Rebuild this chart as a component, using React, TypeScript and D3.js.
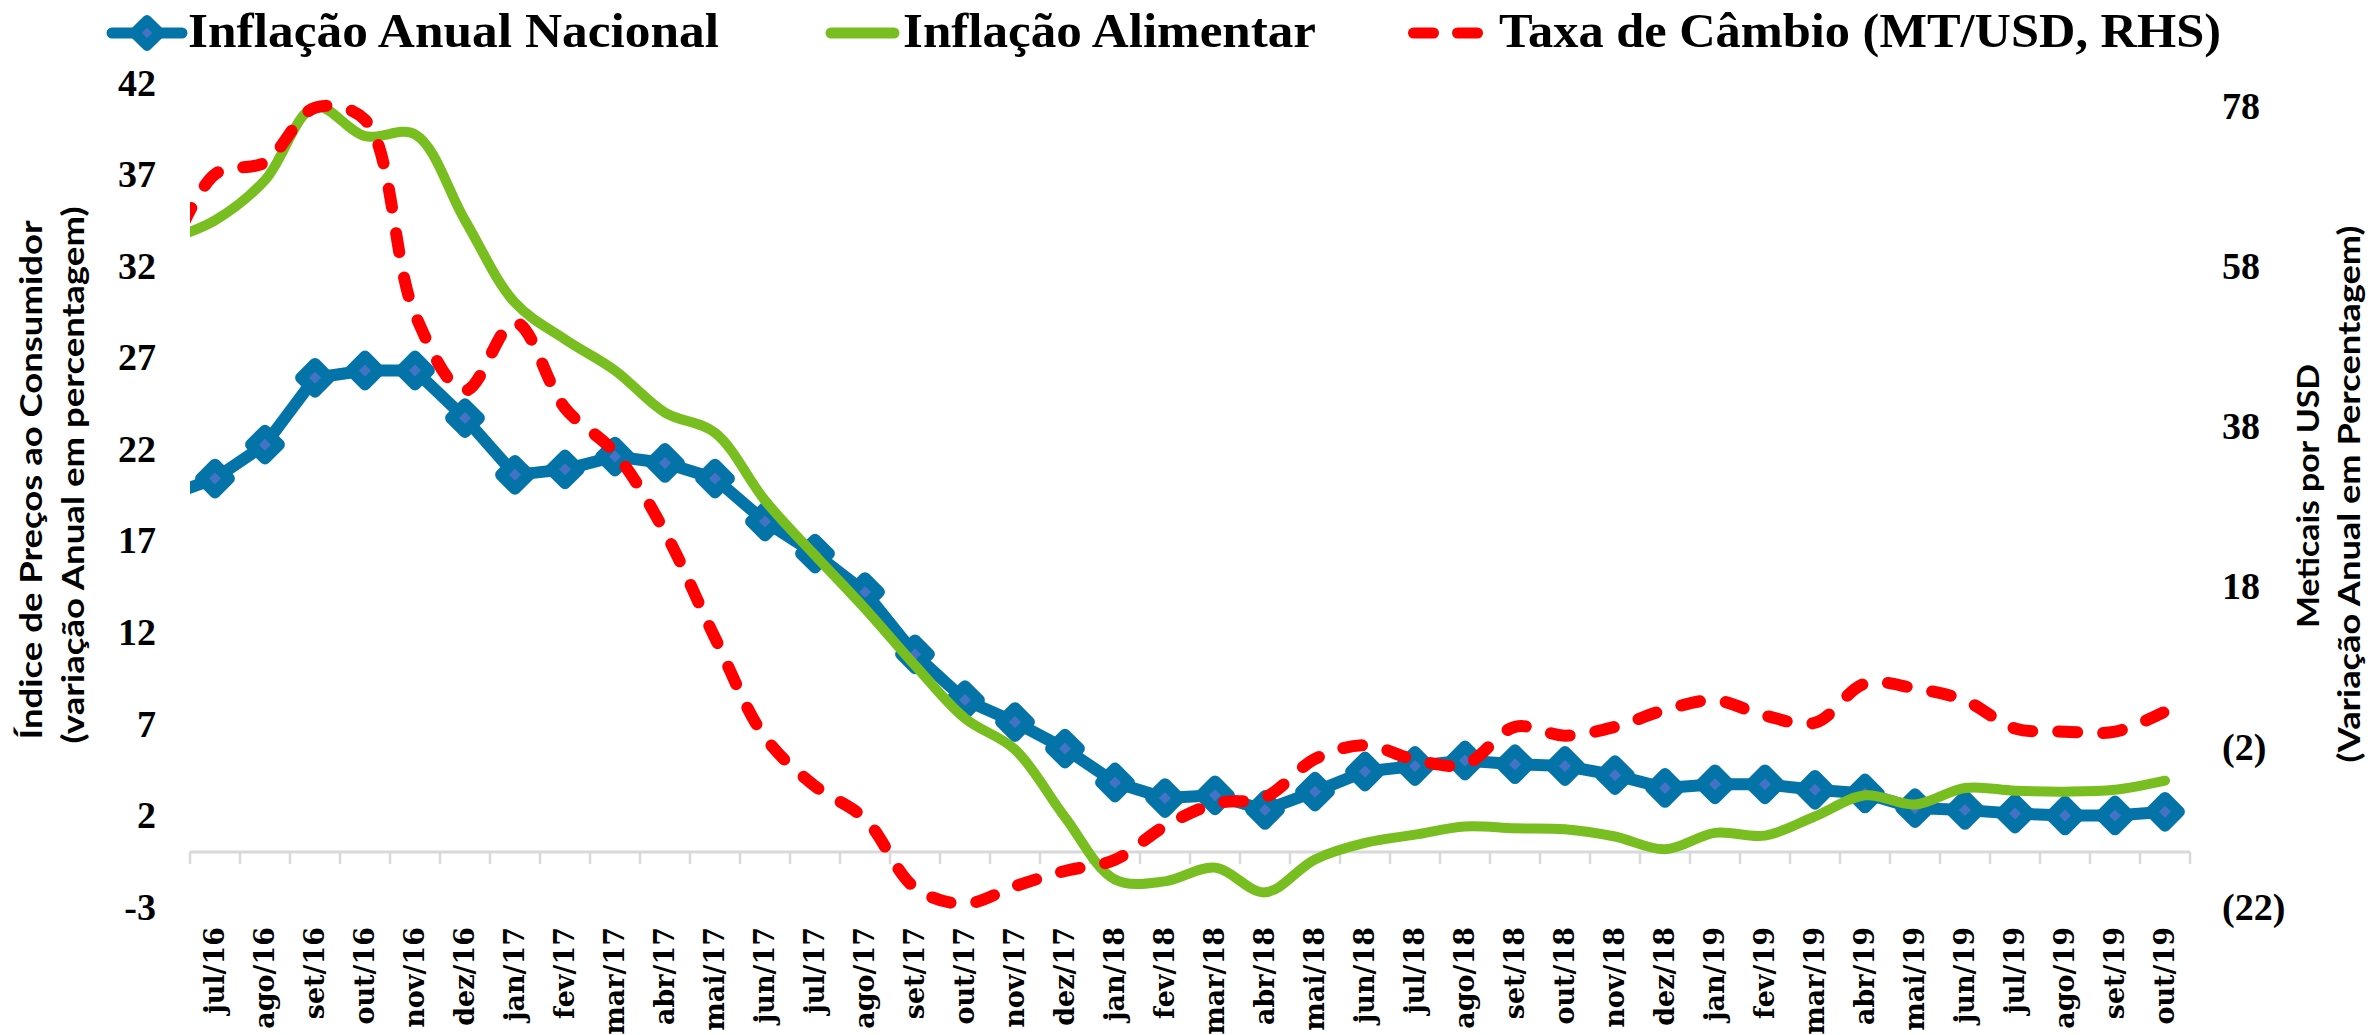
import { useEffect, useRef } from "react";
import * as d3 from "d3";

// first month (jun/16) sits left of the axis and is clipped, like in the original
const months = [
  "jun/16", "jul/16", "ago/16", "set/16", "out/16", "nov/16", "dez/16",
  "jan/17", "fev/17", "mar/17", "abr/17", "mai/17", "jun/17", "jul/17", "ago/17", "set/17", "out/17", "nov/17", "dez/17",
  "jan/18", "fev/18", "mar/18", "abr/18", "mai/18", "jun/18", "jul/18", "ago/18", "set/18", "out/18", "nov/18", "dez/18",
  "jan/19", "fev/19", "mar/19", "abr/19", "mai/19", "jun/19", "jul/19", "ago/19", "set/19", "out/19",
];
const axisMonths = months.slice(1);

const inflacaoNacional = [
  19.4, 20.4, 22.25, 25.9, 26.3, 26.3, 23.7,
  20.6, 20.9, 21.6, 21.25, 20.4, 18.05, 16.3, 14.2, 10.8, 8.3, 7.1, 5.65,
  3.8, 2.95, 3.1, 2.3, 3.3, 4.4, 4.7, 5.0, 4.8, 4.7, 4.2, 3.5,
  3.7, 3.7, 3.4, 3.2, 2.4, 2.3, 2.1, 2.0, 2.0, 2.2,
];
const inflacaoAlimentar = [
  33.4, 34.5, 36.7, 40.7, 39.1, 39.2, 34.5,
  30.0, 28.0, 26.3, 24.0, 22.9, 19.2, 16.2, 13.3, 10.2, 7.3, 5.6, 1.9,
  -1.5, -1.6, -0.85, -2.2, -0.4, 0.5, 0.95, 1.4, 1.3, 1.25, 0.85, 0.15,
  1.05, 0.9, 1.95, 3.1, 2.6, 3.5, 3.35, 3.3, 3.4, 3.9,
];
const taxaCambio = [
  58, 69.5, 71.0, 77.8, 76.3, 52.0, 42.5,
  51.0, 40.3, 34.7, 24.8, 11.6, -0.8, -6.9, -11.0, -19.6, -21.6, -19.4, -17.5,
  -16.1, -11.9, -9.1, -8.3, -3.5, -1.8, -3.6, -4.2, 0.5, -0.6, 0.5, 2.6,
  3.8, 1.9, 1.0, 5.9, 5.3, 3.8, 0.3, -0.1, -0.1, 2.4,
];

const leftTicks = [-3, 2, 7, 12, 17, 22, 27, 32, 37, 42];
const rightTicks = [-22, -2, 18, 38, 58, 78];

const BLUE = "#0474A8";
const BLUE_FILL = "#4472C4";
const GREEN = "#78BE20";
const RED = "#FF0000";

const App = () => {
  const svgRef = useRef<SVGSVGElement>(null);

  useEffect(() => {
    if (!svgRef.current) return;
    const svg = d3.select(svgRef.current);
    svg.selectAll("*").remove();

    const W = 2372;
    const H = 1035;
    const plot = { left: 190, right: 2190, top: 83, bottom: 907 };
    svg.attr("width", W).attr("height", H);

    const step = (plot.right - plot.left) / axisMonths.length;
    const x = d3.scaleBand().domain(months).range([plot.left - step, plot.right]);
    const bw = x.bandwidth();
    const cx = (m: string) => (x(m) as number) + bw / 2;

    const yL = d3.scaleLinear().domain([-3, 42]).range([plot.bottom, plot.top]);
    const yR = d3.scaleLinear().domain([-22, 80.9]).range([plot.bottom, plot.top]);

    svg.append("defs").append("clipPath").attr("id", "plotClip")
      .append("rect").attr("x", plot.left).attr("y", 0).attr("width", plot.right - plot.left).attr("height", H);

    // category axis at zero
    const y0 = yL(0);
    const axis = svg.append("g");
    axis.append("line")
      .attr("x1", plot.left).attr("x2", plot.right)
      .attr("y1", y0).attr("y2", y0)
      .attr("stroke", "#D9D9D9").attr("stroke-width", 3);
    axis.selectAll(".tick")
      .data([...axisMonths.map((m) => x(m) as number), plot.right])
      .join("line")
      .attr("x1", (d) => d).attr("x2", (d) => d)
      .attr("y1", y0).attr("y2", y0 + 12)
      .attr("stroke", "#D9D9D9").attr("stroke-width", 2.5);

    svg.append("g").selectAll("text")
      .data(axisMonths)
      .join("text")
      .attr("transform", (m) => `translate(${cx(m)},927) rotate(-90)`)
      .attr("text-anchor", "end")
      .attr("dy", "0.35em")
      .style("font-family", "'DejaVu Serif', serif")
      .style("font-weight", "bold")
      .style("font-size", "27px")
      .text((m) => m);

    // left axis labels
    svg.append("g")
      .attr("transform", `translate(159,0)`)
      .call(d3.axisLeft(yL).tickValues(leftTicks).tickSize(0).tickPadding(3).tickFormat((d) => `${d}`))
      .call((g) => g.select(".domain").remove())
      .selectAll("text")
      .style("font-family", "'Liberation Serif', serif")
      .style("font-weight", "bold")
      .style("font-size", "38px")
      .attr("fill", "#000");

    // right axis labels
    svg.append("g")
      .attr("transform", `translate(2219,0)`)
      .call(
        d3.axisRight(yR).tickValues(rightTicks).tickSize(0).tickPadding(3)
          .tickFormat((d) => ((d as number) < 0 ? `(${-(d as number)})` : `${d}`))
      )
      .call((g) => g.select(".domain").remove())
      .selectAll("text")
      .style("font-family", "'Liberation Serif', serif")
      .style("font-weight", "bold")
      .style("font-size", "38px")
      .attr("fill", "#000");

    // axis titles
    const titleStyle = (t: d3.Selection<SVGTextElement, unknown, null, undefined>) =>
      t.attr("text-anchor", "middle")
        .style("font-family", "Lato, sans-serif")
        .style("font-weight", "bold")
        .style("font-size", "31px")
        .attr("lengthAdjust", "spacingAndGlyphs");
    svg.append("text").attr("transform", "translate(42,480) rotate(-90)")
      .call(titleStyle).attr("textLength", 519).text("Índice de Preços ao Consumidor");
    svg.append("text").attr("transform", "translate(84,475) rotate(-90)")
      .call(titleStyle).attr("textLength", 537).text("(variação Anual em percentagem)");
    svg.append("text").attr("transform", "translate(2319,496) rotate(-90)")
      .call(titleStyle).attr("textLength", 264).text("Meticais por USD");
    svg.append("text").attr("transform", "translate(2360,494) rotate(-90)")
      .call(titleStyle).attr("textLength", 537).text("(Variação Anual em Percentagem)");

    const series = svg.append("g").attr("clip-path", "url(#plotClip)");

    const lineNacional = d3.line<number>()
      .x((_, i) => cx(months[i]))
      .y((d) => yL(d));
    const lineAlimentar = d3.line<number>()
      .x((_, i) => cx(months[i]))
      .y((d) => yL(d))
      .curve(d3.curveCatmullRom);
    const lineCambio = d3.line<number>()
      .x((_, i) => cx(months[i]))
      .y((d) => yR(d))
      .curve(d3.curveCatmullRom);

    series.append("path")
      .attr("d", lineNacional(inflacaoNacional))
      .attr("fill", "none").attr("stroke", BLUE).attr("stroke-width", 12)
      .attr("stroke-linejoin", "round");

    const diamond = d3.symbol().type(d3.symbolSquare).size(400);
    series.selectAll(".marker")
      .data(inflacaoNacional.slice(1))
      .join("path")
      .attr("class", "marker")
      .attr("d", diamond)
      .attr("transform", (d, i) => `translate(${cx(axisMonths[i])},${yL(d)}) rotate(45)`)
      .attr("fill", BLUE_FILL).attr("stroke", BLUE).attr("stroke-width", 11.5)
      .attr("stroke-linejoin", "round");

    series.append("path")
      .attr("d", lineAlimentar(inflacaoAlimentar))
      .attr("fill", "none").attr("stroke", GREEN).attr("stroke-width", 10)
      .attr("stroke-linecap", "round");

    series.append("path")
      .attr("d", lineCambio(taxaCambio))
      .attr("fill", "none").attr("stroke", RED).attr("stroke-width", 12)
      .attr("stroke-dasharray", "19 26").attr("stroke-linecap", "round");

    // legend
    const legend = svg.append("g");
    const ly = 33;
    legend.append("line").attr("x1", 112).attr("x2", 182).attr("y1", ly).attr("y2", ly)
      .attr("stroke", BLUE).attr("stroke-width", 11).attr("stroke-linecap", "round");
    legend.append("path").attr("d", d3.symbol().type(d3.symbolSquare).size(320)())
      .attr("transform", `translate(147,${ly}) rotate(45)`)
      .attr("fill", BLUE_FILL).attr("stroke", BLUE).attr("stroke-width", 10.5)
      .attr("stroke-linejoin", "round");
    legend.append("line").attr("x1", 831).attr("x2", 894).attr("y1", ly).attr("y2", ly)
      .attr("stroke", GREEN).attr("stroke-width", 11).attr("stroke-linecap", "round");
    legend.append("line").attr("x1", 1413.5).attr("x2", 1478.5).attr("y1", ly).attr("y2", ly)
      .attr("stroke", RED).attr("stroke-width", 11).attr("stroke-linecap", "round")
      .attr("stroke-dasharray", "20 24");

    const legendItems = [
      { label: "Inflação Anual Nacional", x: 188, len: 531 },
      { label: "Inflação Alimentar", x: 903, len: 413 },
      { label: "Taxa de Câmbio (MT/USD, RHS)", x: 1499, len: 722 },
    ];
    legend.selectAll(".ltext")
      .data(legendItems)
      .join("text")
      .attr("x", (d) => d.x).attr("y", 47)
      .attr("textLength", (d) => d.len).attr("lengthAdjust", "spacingAndGlyphs")
      .style("font-family", "'Liberation Serif', serif")
      .style("font-weight", "bold")
      .style("font-size", "48px")
      .text((d) => d.label);
  }, []);

  return (
    <svg
      ref={svgRef}
      style={{ position: "absolute", left: 0, top: 0, background: "#fff" }}
    ></svg>
  );
};

export default App;
